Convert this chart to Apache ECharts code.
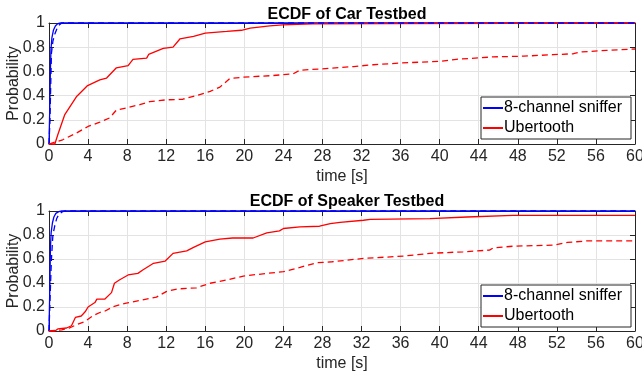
<!DOCTYPE html>
<html><head><meta charset="utf-8">
<script src="https://cdn.jsdelivr.net/npm/echarts@6/dist/echarts.min.js"></script>
<style>html,body{margin:0;padding:0;background:#fff}#c{width:642px;height:379px}</style>
</head><body><div id="c"></div>
<script>
// ---- Data ----
const titles = ['ECDF of Car Testbed', 'ECDF of Speaker Testbed'];
const legendNames = ['8-channel sniffer', 'Ubertooth'];
const xTicks = [0,4,8,12,16,20,24,28,32,36,40,44,48,52,56,60];
const yTicks = [0,0.2,0.4,0.6,0.8,1];

// Car testbed
const carSnifferT      = [0,0.08,0.14,0.2,0.3,0.45,0.65,0.9,1.2,60];
const carSnifferP      = [0,0.3,0.6,0.78,0.88,0.94,0.975,0.995,1,1];
const carSnifferDashT  = [0,0.1,0.18,0.25,0.4,0.6,0.8,1.0,1.3,60];
const carSnifferDashP  = [0,0.2,0.5,0.75,0.85,0.91,0.95,0.98,1,1];
const carUberT = [0,0.6,0.9,1.6,2.8,3.9,5.2,5.9,6.9,8.1,8.6,10.0,10.2,11.7,12.7,13.4,14.8,16.0,18.2,19.7,20.6,22.6,23.9,27.0,34.6,34.7,60];
const carUberP = [0,0,0.077,0.24,0.39,0.48,0.53,0.545,0.63,0.647,0.70,0.71,0.74,0.79,0.80,0.868,0.89,0.917,0.93,0.94,0.958,0.977,0.985,0.994,0.996,1,1];
const carUberDashT = [0,1.4,2.8,4.0,5.2,6.2,6.9,8.0,9.3,10.3,12.0,13.7,15.1,16.5,17.5,18.5,19.9,22.8,25.0,25.7,27.7,31.2,33.2,36.1,40.0,41.7,45.5,48.6,51.6,53.7,54.4,57.1,60];
const carUberDashP = [0,0.035,0.09,0.145,0.18,0.215,0.28,0.30,0.325,0.35,0.365,0.37,0.40,0.435,0.47,0.54,0.553,0.565,0.58,0.61,0.62,0.64,0.655,0.67,0.683,0.70,0.72,0.726,0.738,0.746,0.76,0.774,0.785];

// Speaker testbed
const spkSnifferT      = [0,0.08,0.15,0.22,0.35,0.5,0.7,1.0,1.3,60];
const spkSnifferP      = [0,0.35,0.7,0.82,0.9,0.95,0.98,0.995,1,1];
const spkSnifferDashT  = [0,0.12,0.25,0.4,0.6,0.8,1.0,1.3,1.6,60];
const spkSnifferDashP  = [0,0.3,0.6,0.8,0.88,0.94,0.97,0.99,1,1];
const spkUberT = [0,0.6,0.9,1.8,2.3,2.7,3.3,3.7,4.0,4.7,4.9,5.7,6.4,6.7,7.2,8.1,9.1,9.6,10.7,11.9,12.7,14.1,14.8,16.0,17.5,18.8,20.9,22.3,23.6,24.0,25.7,27.7,28.8,29.8,32.2,32.9,39.0,42.8,47.5,60];
const spkUberP = [0,0,0.017,0.025,0.044,0.113,0.125,0.16,0.20,0.237,0.265,0.265,0.32,0.398,0.425,0.467,0.48,0.508,0.564,0.583,0.647,0.668,0.697,0.743,0.765,0.775,0.775,0.818,0.834,0.854,0.867,0.873,0.895,0.905,0.923,0.93,0.937,0.95,0.964,0.964];
const spkUberDashT = [0,1.3,2.1,2.8,3.7,4.5,5.2,5.7,6.6,7.9,9.6,11.0,12.0,13.1,15.1,16.5,18.2,19.9,22.3,24.0,25.7,27.4,29.0,32.2,36.3,39.0,42.4,45.1,45.5,47.6,51.7,53.1,55.1,60];
const spkUberDashP = [0,0.01,0.025,0.052,0.08,0.127,0.154,0.165,0.204,0.232,0.26,0.282,0.328,0.35,0.36,0.398,0.425,0.458,0.48,0.494,0.53,0.569,0.577,0.605,0.624,0.647,0.66,0.674,0.693,0.707,0.716,0.738,0.751,0.751];

// ---- Build ----
const zip = (t, p) => t.map((v, i) => [v, p[i]]);
const FONT = '"Liberation Sans", Arial, Helvetica, sans-serif';
const TXT = '#262626';
const BLUE = '#0000ff', RED = '#ff0000';

const grids = [
  {left: 49, top: 23, width: 586, height: 121},
  {left: 49, top: 211, width: 586, height: 120}
];
const xMin = xTicks[0], xMax = xTicks[xTicks.length-1], xInt = xTicks[1]-xTicks[0];
const yMin = yTicks[0], yMax = yTicks[yTicks.length-1], yInt = yTicks[1]-yTicks[0];

const xAxes = [], yAxes = [];
grids.forEach((g, i) => {
  xAxes.push({
    type: 'value', gridIndex: i, min: xMin, max: xMax, interval: xInt, position: 'bottom',
    name: 'time [s]', nameLocation: 'middle', nameGap: 33, nameMoveOverlap: false,
    nameTextStyle: {fontFamily: FONT, fontSize: 16, color: TXT, verticalAlign: 'middle'},
    axisLine: {show: true, onZero: false, lineStyle: {color: TXT, width: 1}},
    axisTick: {show: true, inside: true, length: 5, lineStyle: {color: TXT}},
    axisLabel: {fontFamily: FONT, fontSize: 16, color: TXT, margin: 5},
    splitLine: {show: true, lineStyle: {color: '#e3e3e3', width: 1}}
  });
  xAxes.push({
    type: 'value', gridIndex: i, min: xMin, max: xMax, interval: xInt, position: 'top',
    axisLine: {show: true, onZero: false, lineStyle: {color: TXT, width: 1}},
    axisTick: {show: true, inside: true, length: 5, lineStyle: {color: TXT}},
    axisLabel: {show: false}, splitLine: {show: false}
  });
  yAxes.push({
    type: 'value', gridIndex: i, min: yMin, max: yMax, interval: yInt, position: 'left',
    name: 'Probability', nameLocation: 'middle', nameGap: 35, nameMoveOverlap: false,
    nameTextStyle: {fontFamily: FONT, fontSize: 16, color: TXT, verticalAlign: 'middle'},
    axisLine: {show: true, onZero: false, lineStyle: {color: TXT, width: 1}},
    axisTick: {show: true, inside: true, length: 5, lineStyle: {color: TXT}},
    axisLabel: {fontFamily: FONT, fontSize: 16, color: TXT, margin: 4},
    splitLine: {show: true, lineStyle: {color: '#e3e3e3', width: 1}}
  });
  yAxes.push({
    type: 'value', gridIndex: i, min: yMin, max: yMax, interval: yInt, position: 'right',
    axisLine: {show: true, onZero: false, lineStyle: {color: TXT, width: 1}},
    axisTick: {show: true, inside: true, length: 5, lineStyle: {color: TXT}},
    axisLabel: {show: false}, splitLine: {show: false}
  });
});

function line(name, data, idx, color, dashed) {
  return {
    name, type: 'line', xAxisIndex: idx*2, yAxisIndex: idx*2, data,
    showSymbol: false, symbol: 'none', clip: false, animation: false,
    lineStyle: {color, width: 1.3, type: dashed ? [6, 4] : 'solid'},
    itemStyle: {color}
  };
}

const series = [
  line(legendNames[0], zip(carSnifferT, carSnifferP), 0, BLUE, false),
  line(legendNames[1], zip(carUberT, carUberP), 0, RED, false),
  line('car sniffer dashed', zip(carSnifferDashT, carSnifferDashP), 0, BLUE, true),
  line('car uber dashed', zip(carUberDashT, carUberDashP), 0, RED, true),
  line(legendNames[0], zip(spkSnifferT, spkSnifferP), 1, BLUE, false),
  line(legendNames[1], zip(spkUberT, spkUberP), 1, RED, false),
  line('spk sniffer dashed', zip(spkSnifferDashT, spkSnifferDashP), 1, BLUE, true),
  line('spk uber dashed', zip(spkUberDashT, spkUberDashP), 1, RED, true)
];

function legend(top) {
  return {
    data: legendNames.map(n => ({name: n})), orient: 'vertical', left: 481, top,
    icon: 'rect', itemWidth: 20, itemHeight: 2, itemGap: 0,
    padding: [1, 9, 1, 2], backgroundColor: '#fff', borderColor: '#262626', borderWidth: 1, borderRadius: 0,
    selectedMode: false,
    textStyle: {fontFamily: FONT, fontSize: 16, color: '#000', lineHeight: 20, padding: [0, 0, 0, -4]}
  };
}

const chart = echarts.init(document.getElementById('c'), null, {renderer: 'canvas'});
chart.setOption({
  animation: false,
  backgroundColor: '#fff',
  title: [
    {text: titles[0], left: 342, top: 2, textAlign: 'center', textStyle: {fontFamily: FONT, fontSize: 16, fontWeight: 'bold', color: '#000'}},
    {text: titles[1], left: 342, top: 189, textAlign: 'center', textStyle: {fontFamily: FONT, fontSize: 16, fontWeight: 'bold', color: '#000'}}
  ],
  grid: grids.map(g => Object.assign({containLabel: false, outerBoundsMode: 'none', show: false}, g)),
  xAxis: xAxes, yAxis: yAxes,
  legend: [legend(97), legend(285)],
  series
});
</script></body></html>
